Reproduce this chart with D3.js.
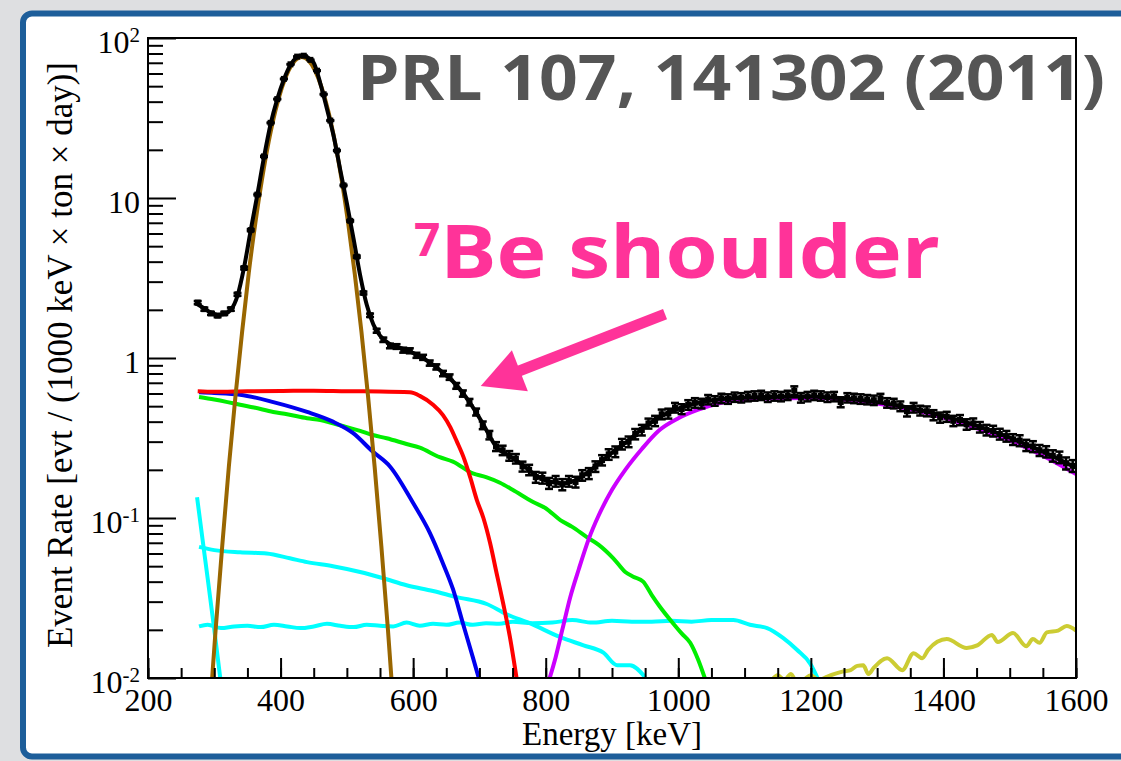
<!DOCTYPE html>
<html>
<head>
<meta charset="utf-8">
<script src="https://cdn.jsdelivr.net/npm/d3@7"></script>
<style>
  html, body { margin: 0; padding: 0; background: #dedfe1; }
  svg { display: block; }
</style>
</head>
<body>
<svg id="chart" width="1121" height="761"></svg>
<script>
// ---- data ----
const xMajorTicks = [200, 400, 600, 800, 1000, 1200, 1400, 1600]
const yDecades = [0.01, 0.1, 1, 10, 100]
const yDecadeLabels = [["10", "-2"], ["10", "-1"], ["1", ""], ["10", ""], ["10", "2"]]

// measured points, 10 keV bins starting at 275 keV
const binStart = 275, binWidth = 10
const dataRate = [
  2.22, 2.02, 1.90, 1.84, 1.90, 2.02, 2.50, 3.65, 6.30, 10.5,
  18.2, 29.5, 41.5, 55.5, 68.5, 76.5, 77.5, 73.0, 62.5, 44.5,
  30.5, 19.8, 12.0, 7.2, 4.3, 2.55, 1.85, 1.48, 1.30, 1.19,
  1.18, 1.12, 1.11, 1.04, 1.01, 0.93, 0.88, 0.80, 0.76, 0.67,
  0.60, 0.53, 0.46, 0.38, 0.33, 0.28, 0.265, 0.245, 0.235, 0.21,
  0.20, 0.18, 0.178, 0.165, 0.17, 0.162, 0.17, 0.168, 0.185, 0.19,
  0.21, 0.23, 0.25, 0.26, 0.29, 0.30, 0.335, 0.355, 0.39, 0.405,
  0.445, 0.45, 0.49, 0.48, 0.51, 0.525, 0.52, 0.55, 0.54, 0.56,
  0.555, 0.57, 0.565, 0.575, 0.58, 0.585, 0.57, 0.58, 0.575, 0.585,
  0.625, 0.565, 0.575, 0.585, 0.58, 0.57, 0.575, 0.53, 0.565, 0.56,
  0.555, 0.55, 0.545, 0.56, 0.525, 0.52, 0.50, 0.465, 0.49, 0.47,
  0.465, 0.44, 0.425, 0.43, 0.405, 0.41, 0.385, 0.39, 0.37, 0.355,
  0.35, 0.335, 0.325, 0.31, 0.305, 0.285, 0.28, 0.265, 0.26, 0.245,
  0.24, 0.22, 0.212
]
const dataErr = [
  0.05, 0.045, 0.042, 0.04, 0.042, 0.045, 0.05, 0.07, 0.09, 0.11,
  0.15, 0.18, 0.2, 0.23, 0.26, 0.27, 0.27, 0.26, 0.25, 0.21,
  0.17, 0.14, 0.11, 0.08, 0.065, 0.05, 0.045, 0.042, 0.041, 0.04,
  0.04, 0.04, 0.04, 0.038, 0.037, 0.035, 0.033, 0.031, 0.03, 0.028,
  0.027, 0.025, 0.023, 0.021, 0.02, 0.018, 0.018, 0.017, 0.016, 0.015,
  0.015, 0.014, 0.014, 0.013, 0.013, 0.013, 0.013, 0.013, 0.014, 0.015,
  0.016, 0.017, 0.019, 0.02, 0.022, 0.023, 0.025, 0.027, 0.028, 0.03,
  0.031, 0.032, 0.034, 0.034, 0.035, 0.036, 0.036, 0.037, 0.037, 0.038,
  0.038, 0.038, 0.038, 0.039, 0.039, 0.039, 0.039, 0.039, 0.039, 0.039,
  0.04, 0.039, 0.039, 0.039, 0.039, 0.039, 0.039, 0.038, 0.038, 0.038,
  0.038, 0.037, 0.037, 0.037, 0.036, 0.036, 0.035, 0.034, 0.034, 0.033,
  0.033, 0.032, 0.031, 0.031, 0.03, 0.03, 0.029, 0.029, 0.028, 0.027,
  0.027, 0.026, 0.025, 0.024, 0.024, 0.023, 0.022, 0.021, 0.021, 0.02,
  0.02, 0.019, 0.018
]

// total fit
const fitE = [272, 285, 295, 305, 315, 325, 335, 345, 355, 365, 375, 385, 395, 405, 415, 425, 432, 440, 450, 460,
  470, 480, 490, 500, 510, 520, 530, 540, 550, 565, 585, 605, 625, 645, 665, 685, 705, 725, 745, 765,
  785, 805, 825, 845, 865, 885, 905, 925, 945, 965, 985, 1005, 1030, 1060, 1100, 1150, 1200, 1250, 1300, 1350,
  1400, 1450, 1500, 1550, 1600]
const fitV = [2.2, 2.04, 1.92, 1.86, 1.88, 2.0, 2.45, 3.7, 6.3, 10.5, 18, 29, 41.5, 55, 68, 76, 78, 76, 70, 52,
  36, 24.5, 15, 9.3, 5.6, 3.3, 2.15, 1.62, 1.38, 1.22, 1.14, 1.05, 0.94, 0.81, 0.68, 0.53, 0.39, 0.28, 0.245, 0.215,
  0.185, 0.169, 0.165, 0.172, 0.195, 0.228, 0.265, 0.305, 0.36, 0.41, 0.455, 0.49, 0.525, 0.55, 0.565, 0.572, 0.575, 0.558, 0.53, 0.488,
  0.435, 0.378, 0.318, 0.26, 0.206]

// 210Po peak (brown)
const poE = [292, 302, 312, 322, 332, 342, 352, 362, 372, 382, 392, 402, 412, 422, 432,
  442, 452, 462, 472, 482, 492, 502, 512, 522, 532, 542, 552, 562, 572]
const poV = [0.0053, 0.02, 0.067, 0.21, 0.58, 1.46, 3.4, 7.0, 13.1, 22.4, 34.8, 49, 62.5, 72.4, 76,
  72.4, 62.5, 49, 34.8, 22.4, 13.1, 6.95, 3.34, 1.46, 0.575, 0.207, 0.067, 0.02, 0.0053]

// 7Be (red)
const beE = [275, 300, 350, 400, 450, 500, 550, 595, 610, 630, 645, 656, 666, 676, 686, 696, 706, 716, 726, 736, 746, 756]
const beV = [0.62, 0.615, 0.62, 0.622, 0.625, 0.62, 0.618, 0.61, 0.58, 0.51, 0.44, 0.37, 0.3, 0.24, 0.18, 0.13, 0.1, 0.07, 0.045, 0.029, 0.018, 0.01]

// 85Kr (blue)
const krE = [277, 300, 339, 389, 440, 479, 509, 539, 565, 600, 625, 645, 660, 675, 690, 699]
const krV = [0.61, 0.605, 0.59, 0.53, 0.46, 0.40, 0.34, 0.26, 0.21, 0.124, 0.081, 0.052, 0.036, 0.022, 0.0135, 0.01]

// 210Bi / CNO (green)
const biE = [277, 300, 320, 339, 360, 389, 410, 440, 460, 479, 500, 520, 539, 560, 590, 610, 640, 660, 690, 710,
  731, 750, 781, 800, 822, 840, 862, 880, 902, 920, 932, 947, 960, 972, 992, 1005, 1018, 1030, 1040]
const biV = [0.57, 0.55, 0.53, 0.51, 0.49, 0.46, 0.445, 0.42, 0.41, 0.39, 0.37, 0.35, 0.33, 0.315, 0.29, 0.275, 0.24, 0.225, 0.19, 0.18,
  0.166, 0.15, 0.126, 0.115, 0.097, 0.088, 0.076, 0.068, 0.056, 0.046, 0.043, 0.04, 0.033, 0.028, 0.022, 0.019, 0.0166, 0.013, 0.01]

// cyan components
const c14E = [274, 282, 290, 300, 309]
const c14V = [0.135, 0.075, 0.042, 0.02, 0.01]
const ppE = [277, 300, 339, 379, 414, 440, 479, 520, 555, 590, 630, 666, 711, 741, 776, 822, 857, 887, 908, 927, 950]
const ppV = [0.066, 0.063, 0.061, 0.06, 0.056, 0.053, 0.05, 0.046, 0.042, 0.038, 0.035, 0.032, 0.029, 0.025, 0.022, 0.018, 0.016, 0.0144, 0.012, 0.012, 0.0101]
const flatE = [277, 290, 310, 330, 350, 370, 390, 410, 430, 450, 470, 490, 510, 530, 550, 570, 590, 610, 630, 650, 670,
  690, 710, 730, 750, 780, 810, 840, 870, 900, 930, 960, 990, 1020, 1050, 1083, 1108, 1134, 1158, 1179, 1199, 1211]
const flatV = [0.021, 0.0215, 0.0205, 0.021, 0.0212, 0.0208, 0.0215, 0.021, 0.0205, 0.021, 0.0218, 0.0212, 0.0208, 0.0215, 0.0212, 0.021, 0.0222, 0.0212, 0.0218, 0.0215, 0.0222,
  0.0215, 0.022, 0.0218, 0.0225, 0.022, 0.0222, 0.023, 0.0222, 0.0228, 0.0225, 0.0225, 0.0228, 0.0225, 0.023, 0.023, 0.0215, 0.0205, 0.0178, 0.015, 0.0123, 0.0098]

// 11C (magenta)
const cE = [806, 815, 825, 837, 850, 865, 880, 900, 920, 945, 970, 1000, 1030, 1060, 1100, 1150, 1200, 1250, 1300, 1350, 1400, 1450, 1500, 1550, 1600]
const cV = [0.01, 0.0135, 0.02, 0.032, 0.048, 0.074, 0.104, 0.15, 0.2, 0.27, 0.35, 0.42, 0.475, 0.52, 0.548, 0.56, 0.562, 0.55, 0.52, 0.478, 0.425, 0.365, 0.305, 0.245, 0.188]

// external background (olive)
const extE = [1140, 1150, 1160, 1170, 1180, 1190, 1200, 1212, 1225, 1236, 1249, 1260, 1270, 1279, 1287, 1295, 1315, 1338, 1355, 1368, 1377,
  1405, 1435, 1451, 1473, 1482, 1505, 1525, 1535, 1545, 1556, 1573, 1586, 1600]
const extV = [0.0096, 0.0104, 0.0097, 0.0106, 0.0092, 0.0098, 0.0104, 0.0097, 0.0102, 0.0106, 0.011, 0.0112, 0.0119, 0.012, 0.0106, 0.0116, 0.0133, 0.0112, 0.0143, 0.0133, 0.015,
  0.0175, 0.0154, 0.016, 0.0186, 0.0168, 0.0191, 0.0158, 0.0175, 0.0166, 0.0193, 0.0198, 0.0211, 0.0198]

const components = [
  { e: c14E, v: c14V, color: "#00ffff" },
  { e: ppE, v: ppV, color: "#00ffff" },
  { e: flatE, v: flatV, color: "#00ffff" },
  { e: extE, v: extV, color: "#cccc33" },
  { e: biE, v: biV, color: "#00ee00" },
  { e: krE, v: krV, color: "#0000ee" },
  { e: beE, v: beV, color: "#ff0000" },
  { e: cE, v: cV, color: "#cc00ff" },
  { e: poE, v: poV, color: "#996600" }
]

// ---- layout ----
const W = 1121, H = 761
const plot = { left: 148, right: 1076, top: 38, bottom: 678 }
const serif = "'Liberation Serif', 'Times New Roman', serif"

const svg = d3.select("#chart")

// slide frame
svg.append("rect").attr("x", 0).attr("y", 0).attr("width", W).attr("height", H).attr("fill", "#dedfe1")
svg.append("rect")
  .attr("x", 23).attr("y", 13.5).attr("width", 1130).attr("height", 743)
  .attr("rx", 9).attr("fill", "#ffffff")
  .attr("stroke", "#1d5e9a").attr("stroke-width", 6)

const x = d3.scaleLinear().domain([200, 1600]).range([plot.left, plot.right])
const y = d3.scaleLog().domain([0.01, 100]).range([plot.bottom, plot.top])

svg.append("clipPath").attr("id", "clip")
  .append("rect")
  .attr("x", plot.left).attr("y", plot.top)
  .attr("width", plot.right - plot.left).attr("height", plot.bottom - plot.top)

const curves = svg.append("g").attr("clip-path", "url(#clip)")

const line = d3.line()
  .x(d => x(d[0]))
  .y(d => y(Math.max(d[1], 1e-4)))
  .curve(d3.curveMonotoneX)

components.forEach(c => {
  curves.append("path")
    .datum(c.e.map((e, i) => [e, c.v[i]]))
    .attr("d", line)
    .attr("fill", "none")
    .attr("stroke", c.color)
    .attr("stroke-width", 4)
    .attr("stroke-linejoin", "round")
})

// data points with error bars
const points = dataRate.map((v, i) => ({ e: binStart + i * binWidth, v: v, err: dataErr[i] }))
const pts = curves.append("g").selectAll("g").data(points).enter().append("g")
pts.append("line")
  .attr("x1", d => x(d.e)).attr("x2", d => x(d.e))
  .attr("y1", d => y(d.v - d.err)).attr("y2", d => y(d.v + d.err))
  .attr("stroke", "#000").attr("stroke-width", 2.5)
pts.append("line")
  .attr("x1", d => x(d.e) - 4).attr("x2", d => x(d.e) + 4)
  .attr("y1", d => y(d.v + d.err)).attr("y2", d => y(d.v + d.err))
  .attr("stroke", "#000").attr("stroke-width", 2.5)
pts.append("line")
  .attr("x1", d => x(d.e) - 4).attr("x2", d => x(d.e) + 4)
  .attr("y1", d => y(d.v - d.err)).attr("y2", d => y(d.v - d.err))
  .attr("stroke", "#000").attr("stroke-width", 2.5)
pts.append("rect")
  .attr("x", d => x(d.e) - 3).attr("y", d => y(d.v) - 3)
  .attr("width", 6).attr("height", 6).attr("fill", "#000")

// total fit
curves.append("path")
  .datum(fitE.map((e, i) => [e, fitV[i]]))
  .attr("d", line)
  .attr("fill", "none")
  .attr("stroke", "#000")
  .attr("stroke-width", 4)

// ---- axes (ROOT style, ticks inside) ----
const xAxis = svg.append("g")
  .attr("transform", `translate(0,${plot.bottom})`)
  .call(d3.axisBottom(x).tickValues(xMajorTicks).tickSize(-20).tickPadding(10).tickFormat(d3.format("d")))
xAxis.select(".domain").remove()
xAxis.selectAll("text").attr("font-family", serif).attr("font-size", 32).attr("fill", "#000")
xAxis.selectAll("line").attr("stroke-width", 2)

const xMinor = svg.append("g")
  .attr("transform", `translate(0,${plot.bottom})`)
  .call(d3.axisBottom(x).ticks(28).tickSize(-10).tickFormat(""))
xMinor.select(".domain").remove()
xMinor.selectAll("line").attr("stroke-width", 2)

const yAxis = svg.append("g")
  .attr("transform", `translate(${plot.left},0)`)
  .call(d3.axisLeft(y).tickValues(yDecades).tickSize(-28).tickFormat(""))
yAxis.select(".domain").remove()
yAxis.selectAll("line").attr("stroke-width", 2)

const yMinor = svg.append("g")
  .attr("transform", `translate(${plot.left},0)`)
  .call(d3.axisLeft(y).tickValues(y.ticks().filter(t => !yDecades.some(d => Math.abs(d - t) < 1e-9))).tickSize(-15).tickFormat(""))
yMinor.select(".domain").remove()
yMinor.selectAll("line").attr("stroke-width", 2)

// y tick labels with exponents
yDecades.forEach((d, i) => {
  const [base, exp] = yDecadeLabels[i]
  const t = svg.append("text")
    .attr("x", 140).attr("y", y(d) + 15)
    .attr("text-anchor", "end")
    .attr("font-family", serif).attr("font-size", 32).attr("fill", "#000")
    .text(base)
  if (exp) t.append("tspan").attr("dy", -11).attr("font-size", 21).text(exp)
})

// frame
svg.append("rect")
  .attr("x", plot.left).attr("y", plot.top)
  .attr("width", plot.right - plot.left).attr("height", plot.bottom - plot.top)
  .attr("fill", "none").attr("stroke", "#000").attr("stroke-width", 2)

// axis titles
svg.append("text")
  .attr("x", (plot.left + plot.right) / 2).attr("y", 745)
  .attr("text-anchor", "middle")
  .attr("font-family", serif).attr("font-size", 33).attr("fill", "#000")
  .text("Energy [keV]")

svg.append("text")
  .attr("transform", `translate(72,${(plot.top + plot.bottom) / 2 - 3}) rotate(-90)`)
  .attr("text-anchor", "middle")
  .attr("font-family", serif).attr("font-size", 35).attr("fill", "#000")
  .text("Event Rate [evt / (1000 keV \u00d7 ton \u00d7 day)]")

// ---- annotations ----
svg.append("text")
  .attr("x", 357).attr("y", 100)
  .attr("font-family", "'Open Sans', Lato, sans-serif").attr("font-weight", 700)
  .attr("font-size", 62).attr("fill", "#555555")
  .attr("textLength", 748).attr("lengthAdjust", "spacingAndGlyphs")
  .text("PRL 107, 141302 (2011)")

const pink = "#ff3399"
svg.append("text")
  .attr("x", 414).attr("y", 256)
  .attr("font-family", "'Open Sans', sans-serif").attr("font-weight", 700)
  .attr("font-size", 46).attr("fill", pink)
  .text("7")
svg.append("text")
  .attr("x", 440).attr("y", 278)
  .attr("font-family", "'Open Sans', sans-serif").attr("font-weight", 700)
  .attr("font-size", 74).attr("fill", pink)
  .attr("textLength", 500).attr("lengthAdjust", "spacingAndGlyphs")
  .text("Be shoulder")

// arrow pointing at the shoulder
const tail = [x(980), y(1.88)], tip = [x(702), y(0.668)]
const dx = tip[0] - tail[0], dy = tip[1] - tail[1], len = Math.hypot(dx, dy)
const ux = dx / len, uy = dy / len
const headLen = 42, headHalf = 22
const base = [tip[0] - ux * headLen, tip[1] - uy * headLen]
svg.append("line")
  .attr("x1", tail[0]).attr("y1", tail[1])
  .attr("x2", base[0] + ux * 4).attr("y2", base[1] + uy * 4)
  .attr("stroke", pink).attr("stroke-width", 11)
svg.append("polygon")
  .attr("points", [
    tip,
    [base[0] - uy * headHalf, base[1] + ux * headHalf],
    [base[0] + uy * headHalf, base[1] - ux * headHalf]
  ].map(p => p.join(",")).join(" "))
  .attr("fill", pink)
</script>
</body>
</html>
